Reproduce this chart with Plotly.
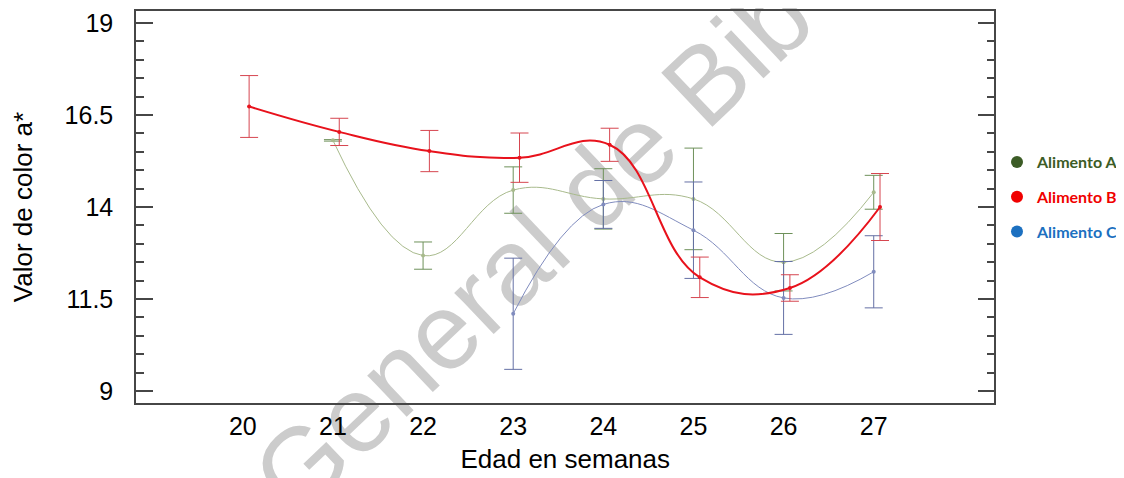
import plotly.graph_objects as go

# ---- data ----
weeks_A = [21, 22, 23, 24, 25, 26, 27]
mean_A = [15.81, 12.68, 14.46, 14.22, 14.22, 12.50, 14.40]
err_A = [0.02, 0.37, 0.63, 0.82, 1.38, 0.78, 0.46]

weeks_B = [20, 21, 22, 23, 24, 25, 26, 27]
mean_B = [16.73, 16.04, 15.52, 15.34, 15.69, 12.09, 11.80, 14.00]
err_B = [0.84, 0.37, 0.56, 0.67, 0.45, 0.55, 0.36, 0.91]

weeks_C = [23, 24, 25, 26, 27]
mean_C = [11.10, 14.07, 13.37, 11.53, 12.24]
err_C = [1.51, 0.65, 1.31, 0.99, 0.98]

series_names = ["Alimento A", "Alimento B", "Alimento C"]
x_ticks = [20, 21, 22, 23, 24, 25, 26, 27]
y_ticks = [9, 11.5, 14, 16.5, 19]

# ---- styles ----
x_shift = {"A": 0.0, "B": 0.07, "C": 0.0}
line_col = {"A": "rgb(168,186,140)", "B": "rgb(232,18,28)", "C": "rgb(128,140,190)"}
err_col = {"A": "rgb(110,145,90)", "B": "rgb(214,70,80)", "C": "rgb(100,112,165)"}
line_w = {"A": 1, "B": 2, "C": 1}
legend_col = {"A": "rgb(60,92,38)", "B": "rgb(240,0,0)", "C": "rgb(28,112,192)"}

fig = go.Figure()

data = {"A": (weeks_A, mean_A, err_A), "B": (weeks_B, mean_B, err_B), "C": (weeks_C, mean_C, err_C)}
for key in ["A", "C", "B"]:
    w, m, e = data[key]
    fig.add_trace(go.Scatter(
        x=[v + x_shift[key] for v in w], y=m,
        mode="lines+markers",
        line=dict(color=line_col[key], width=line_w[key], shape="spline", smoothing=1.2),
        marker=dict(size=4, color=line_col[key]),
        error_y=dict(type="data", array=e, visible=True, color=err_col[key], thickness=1, width=9),
        showlegend=False, hoverinfo="skip",
    ))

for key, nm in zip(["A", "B", "C"], series_names):
    fig.add_trace(go.Scatter(
        x=[None], y=[None], mode="markers",
        marker=dict(size=8, color=legend_col[key]),
        name=f"<span style='color:{legend_col[key]}'><b>{nm}</b></span>",
        legendgroup=key, showlegend=True,
    ))

axis_col = "rgb(70,70,70)"
fig.update_layout(
    width=1116, height=470,
    margin=dict(l=128, r=124, t=1, b=75),
    paper_bgcolor="white",
    plot_bgcolor="rgba(0,0,0,0)",
    font=dict(family="Liberation Sans, Arial", color="black"),
    legend=dict(
        xref="container", yref="container",
        x=0.8862, y=0.7085, xanchor="left", yanchor="top",
        font=dict(family="Lato, Open Sans", size=16),
        tracegroupgap=11, itemsizing="constant",
        bgcolor="rgba(0,0,0,0)",
    ),
    xaxis=dict(
        range=[18.815, 28.34], tickvals=x_ticks, ticks="",
        showgrid=False, zeroline=False,
        showline=True, linecolor=axis_col, linewidth=1.5, mirror=True,
        tickfont=dict(size=25),
        title=dict(text="Edad en semanas", font=dict(size=26), standoff=11),
    ),
    yaxis=dict(
        range=[8.676, 19.324], tickvals=y_ticks, ticktext=[str(v) for v in y_ticks],
        ticks="inside", ticklen=17, tickwidth=1.5, tickcolor=axis_col,
        minor=dict(ticks="inside", ticklen=8, tickwidth=1.5, tickcolor=axis_col, dtick=0.5, showgrid=False),
        showgrid=False, zeroline=False,
        showline=True, linecolor=axis_col, linewidth=1.5, mirror="allticks",
        tickfont=dict(size=25), ticklabelstandoff=16,
        title=dict(text="Valor de color a*", font=dict(size=26), standoff=27),
    ),
    shapes=[dict(
        type="line", xref="paper", yref="paper",
        x0=0.2005, y0=-0.1040, x1=0.7063, y1=0.9417,
        line=dict(width=0, color="rgba(0,0,0,0)"),
        layer="below",
        label=dict(
            text="General de Bib", textangle=-43.5, textposition="middle",
            xanchor="center", yanchor="middle",
            font=dict(family="Liberation Sans, Arial", size=108, color="rgb(204,204,204)"),
        ),
    )],
)

fig.write_html("out.html")
